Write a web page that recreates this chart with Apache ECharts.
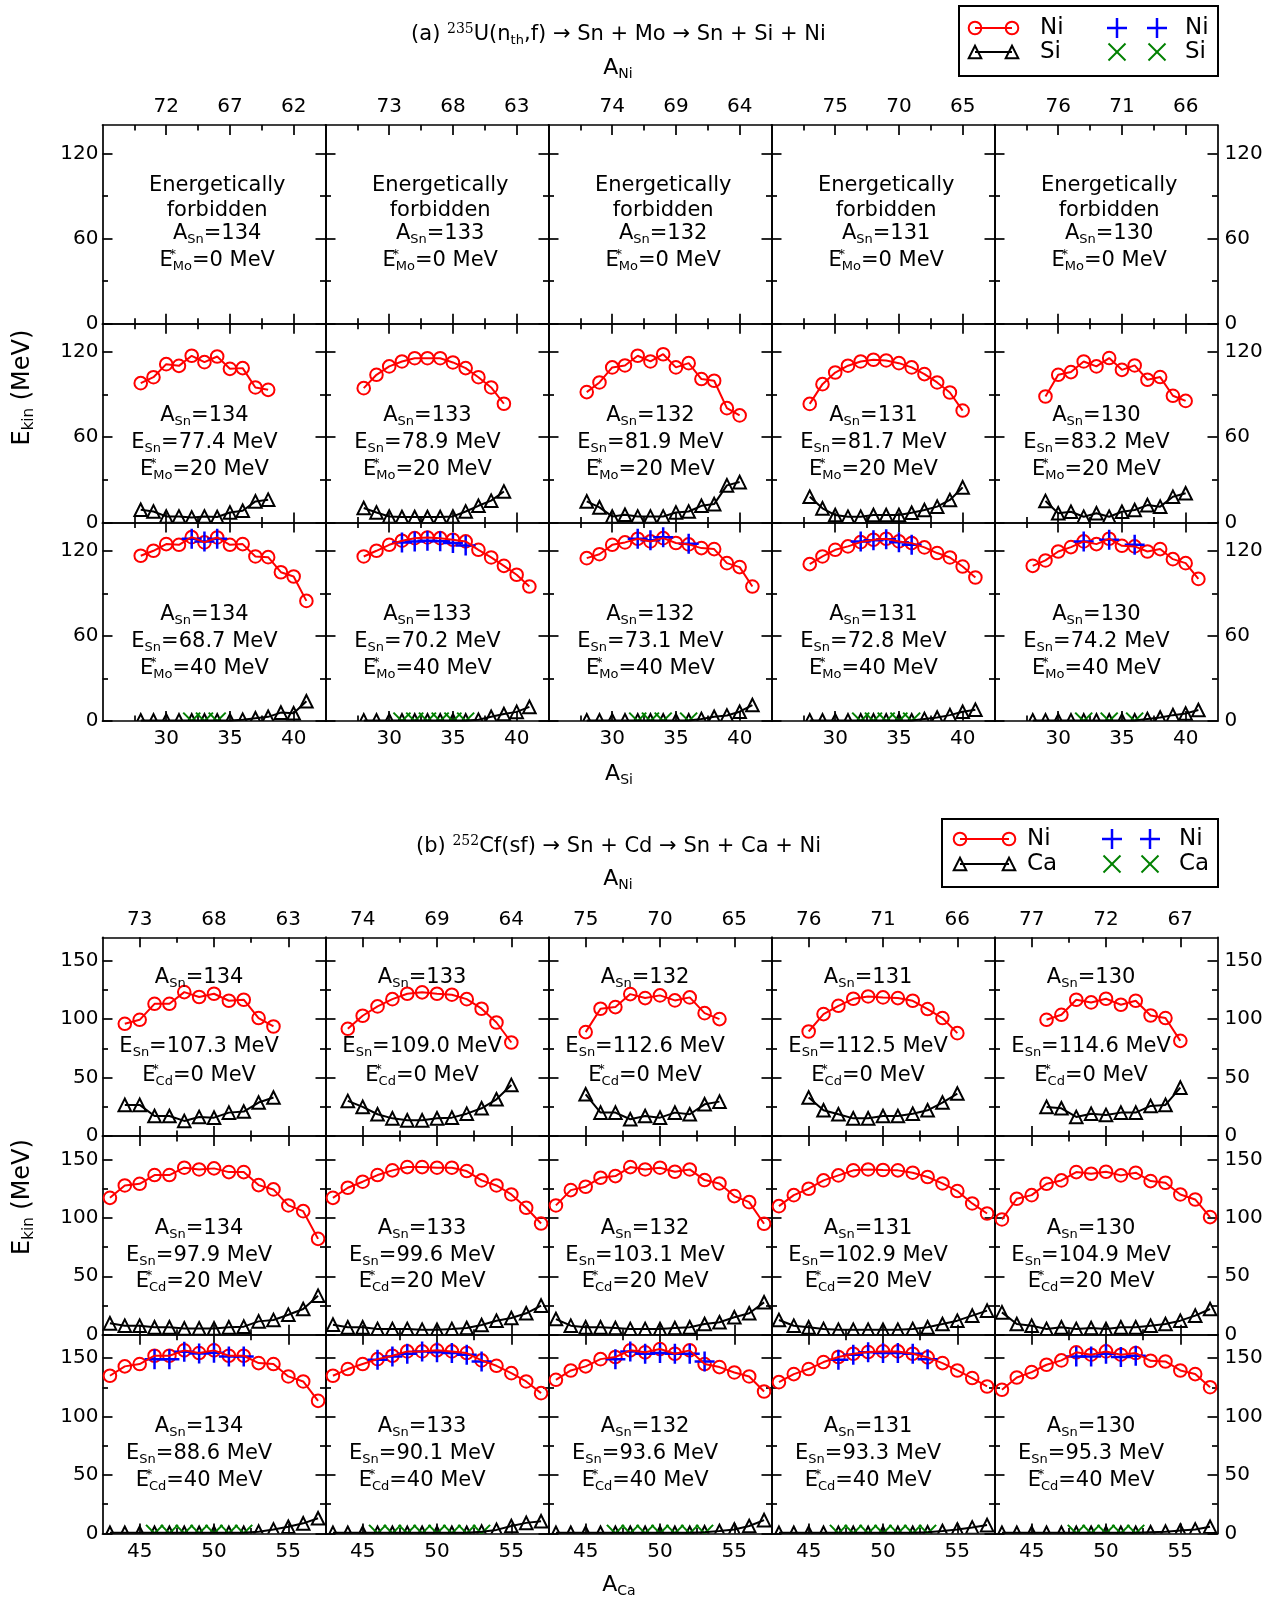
<!DOCTYPE html>
<html>
<head>
<meta charset="utf-8">
<script src="https://cdn.jsdelivr.net/npm/echarts@6.0.0/dist/echarts.min.js"></script>
<style>
html,body{margin:0;padding:0;background:#ffffff;}
#chart{width:1286px;height:1602px;}
</style>
</head>
<body>
<div id="chart"></div>
<script>
// ===================== DATA =====================
const A_SN = [134, 133, 132, 131, 130];
const A_MO = [102, 103, 104, 105, 106];   // 236 - A_Sn
const A_CD = [118, 119, 120, 121, 122];   // 252 - A_Sn
const E_STAR = [0, 20, 40];
const E_SN_A = [null, [77.4, 78.9, 81.9, 81.7, 83.2], [68.7, 70.2, 73.1, 72.8, 74.2]];
const E_SN_B = [[107.3, 109.0, 112.6, 112.5, 114.6], [97.9, 99.6, 103.1, 102.9, 104.9], [88.6, 90.1, 93.6, 93.3, 95.3]];

// tick values
const A_SI_TICKS = [30, 35, 40];
const A_SI_MINOR = [27.5, 32.5, 37.5];
const A_CA_TICKS = [45, 50, 55];
const A_CA_MINOR = [47.5, 52.5];
const E_TICKS_A = [0, 60, 120];
const E_MINOR_A = [30, 90];
const E_TICKS_B = [0, 50, 100, 150];
const E_MINOR_B = [25, 75, 125];

// ---- (a) E*_Mo = 20 MeV : first A_Si of each panel, Ni and Si kinetic energies
const A20_START = [28, 28, 28, 28, 29];
const A20_NI = [
  [98.1, 102.3, 111.5, 110.3, 117.4, 112.9, 116.9, 108.2, 108.7, 95.1, 93.4],
  [94.6, 104.0, 109.9, 113.4, 115.7, 115.7, 115.7, 112.7, 108.7, 102.3, 95.1, 83.6],
  [91.8, 98.6, 109.2, 110.6, 117.4, 113.4, 118.5, 109.2, 112.2, 101.0, 99.8, 80.5, 75.4],
  [83.5, 97.4, 105.6, 110.4, 113.4, 114.6, 114.1, 112.2, 109.2, 104.5, 98.6, 91.5, 78.8],
  [88.7, 104.0, 105.9, 113.4, 109.9, 115.8, 107.5, 110.6, 100.5, 102.4, 89.2, 85.6]
];
const A20_SI = [
  [8.9, 7.7, 4.2, 4.2, 3.5, 4.2, 3.8, 7.0, 8.2, 14.8, 16.0],
  [10.1, 7.0, 4.2, 3.8, 3.8, 3.8, 3.8, 4.2, 7.7, 11.7, 15.3, 21.8],
  [14.8, 10.6, 4.2, 5.4, 4.2, 4.2, 4.2, 7.0, 7.7, 11.7, 12.9, 26.1, 28.4],
  [18.1, 9.9, 5.2, 4.0, 4.0, 5.2, 5.2, 5.2, 6.8, 8.7, 11.1, 15.8, 24.7],
  [15.1, 6.4, 7.5, 4.0, 6.4, 4.0, 7.5, 8.7, 12.2, 11.1, 18.1, 20.5]
];
// ---- (a) E*_Mo = 40 MeV
const A40_START = [28, 28, 28, 28, 28];
const A40_NI = [
  [116.5, 120.0, 124.7, 124.2, 129.6, 125.9, 129.4, 124.2, 124.7, 116.0, 115.5, 104.9, 101.9, 84.7],
  [116.0, 120.0, 124.2, 127.1, 128.9, 129.4, 128.9, 127.8, 126.6, 120.7, 115.3, 109.4, 103.1, 94.8],
  [114.8, 117.6, 124.2, 125.9, 128.5, 126.6, 128.9, 125.5, 124.5, 121.9, 121.2, 111.3, 108.5, 94.8],
  [110.6, 116.0, 120.7, 123.1, 126.1, 127.8, 128.5, 126.6, 125.4, 122.4, 118.4, 115.3, 108.9, 101.2],
  [109.4, 113.2, 119.5, 122.6, 126.6, 124.7, 128.5, 123.5, 123.1, 119.5, 121.2, 114.1, 111.3, 100.2]
];
const A40_SI = [
  [0.5, 0.5, 0.5, 0.5, 0.5, 0.5, 0.5, 0.5, 1.0, 2.0, 3.0, 6.0, 5.5, 14.0],
  [0.5, 0.5, 0.5, 0.5, 0.5, 0.5, 0.5, 0.5, 0.5, 1.0, 3.0, 5.0, 6.5, 10.0],
  [0.5, 0.5, 0.5, 0.5, 0.5, 0.5, 0.5, 0.5, 0.5, 1.5, 3.0, 4.0, 6.6, 11.3],
  [0.5, 0.5, 0.5, 0.5, 0.5, 0.5, 0.5, 0.5, 0.5, 1.5, 2.5, 4.2, 6.6, 8.0],
  [0.5, 0.5, 0.5, 0.5, 0.5, 0.5, 0.5, 0.5, 0.5, 1.5, 2.5, 4.2, 5.4, 7.8]
];
const A40_PLUS_X = [[32, 33, 34], [31, 32, 33, 34, 35, 36], [32, 33, 34, 36], [32, 33, 34, 35, 36], [32, 34, 36]];
const A40_PLUS_E = [
  [128.5, 126.5, 128.5],
  [125.8, 126.5, 127.0, 126.8, 125.5, 123.8],
  [128.5, 127.5, 129.5, 125.0],
  [126.5, 127.5, 128.2, 126.0, 124.2],
  [126.6, 127.8, 124.2]
];
const A40_CROSS_E = [[0, 0, 0], [0, 0, 0, 0, 0, 0], [0, 0, 0, 0], [0, 0, 0, 0, 0], [0, 0, 0]];

// ---- (b) E*_Cd = 0 MeV
const B0_START = [44, 44, 45, 45, 46];
const B0_NI = [
  [96.0, 99.4, 113.1, 113.1, 123.1, 118.9, 121.7, 115.7, 116.6, 100.9, 93.7],
  [91.7, 102.9, 110.9, 117.1, 121.7, 122.9, 121.7, 120.9, 117.1, 108.9, 97.1, 80.0],
  [88.9, 108.9, 110.3, 121.4, 118.0, 120.3, 116.0, 118.6, 105.1, 100.0],
  [89.4, 104.3, 111.4, 117.4, 119.4, 118.6, 118.0, 115.7, 108.6, 100.9, 88.0],
  [99.4, 103.7, 116.6, 114.3, 117.4, 112.3, 115.7, 103.1, 100.9, 81.4]
];
const B0_CA = [
  [26.6, 26.6, 17.1, 17.1, 12.9, 16.3, 15.7, 20.0, 20.9, 28.6, 32.9],
  [30.0, 24.9, 18.6, 15.1, 13.4, 13.4, 15.1, 15.7, 19.1, 23.7, 31.4, 43.7],
  [35.7, 20.0, 20.0, 14.3, 17.1, 15.7, 20.0, 18.6, 27.1, 29.4],
  [32.9, 22.0, 18.6, 15.1, 15.1, 17.1, 17.1, 19.1, 22.0, 28.6, 36.3],
  [24.9, 23.7, 16.3, 19.1, 18.0, 20.0, 20.0, 25.7, 26.6, 41.4]
];
// ---- (b) E*_Cd = 20 MeV
const B20_START = [43, 43, 43, 43, 43];
const B20_NI = [
  [117.1, 127.7, 129.1, 136.6, 136.6, 142.9, 141.4, 142.3, 139.1, 139.1, 128.0, 124.3, 110.6, 105.7, 82.0],
  [117.1, 125.7, 130.9, 136.6, 140.6, 143.4, 143.4, 142.9, 142.9, 140.0, 132.0, 127.7, 120.0, 108.6, 95.1],
  [110.6, 123.7, 126.6, 134.3, 135.7, 143.4, 141.4, 142.9, 139.4, 141.4, 132.3, 129.4, 118.6, 113.4, 94.9],
  [110.0, 119.4, 124.9, 132.0, 136.3, 140.6, 141.4, 140.9, 140.6, 138.6, 134.9, 129.4, 122.9, 112.3, 103.7],
  [98.6, 116.3, 119.4, 129.1, 132.0, 139.1, 137.7, 139.4, 136.3, 138.6, 131.4, 130.0, 120.0, 115.7, 100.6]
];
const B20_CA = [
  [9.7, 7.7, 7.7, 6.3, 6.3, 5.4, 5.4, 5.4, 6.3, 6.9, 11.4, 12.6, 17.1, 22.0, 33.4],
  [8.6, 6.3, 6.3, 4.9, 4.9, 4.9, 4.3, 4.3, 4.9, 5.7, 8.3, 12.0, 14.3, 18.3, 24.9],
  [13.4, 7.7, 6.3, 6.3, 5.7, 4.9, 4.9, 4.9, 5.7, 6.3, 9.1, 10.6, 14.9, 18.3, 27.7],
  [12.6, 7.7, 6.3, 4.9, 4.3, 4.3, 4.3, 4.3, 4.3, 4.9, 6.3, 9.1, 12.0, 16.3, 20.6],
  [19.1, 9.1, 7.7, 4.9, 6.3, 4.9, 5.7, 4.9, 6.3, 6.3, 7.7, 9.1, 12.0, 16.3, 22.0]
];
// ---- (b) E*_Cd = 40 MeV
const B40_START = [43, 43, 43, 43, 43];
const B40_NI = [
  [134.9, 142.9, 144.9, 152.0, 152.0, 156.6, 154.3, 156.6, 152.0, 152.0, 145.7, 144.9, 134.3, 130.0, 113.4],
  [134.9, 140.6, 144.9, 149.1, 152.0, 155.7, 155.7, 156.6, 155.7, 154.3, 148.0, 143.4, 137.1, 130.0, 120.0],
  [131.4, 139.4, 142.9, 149.1, 150.9, 156.6, 154.9, 157.7, 153.7, 156.6, 144.9, 142.3, 137.7, 134.3, 121.4],
  [129.4, 136.3, 140.6, 146.6, 150.9, 153.7, 155.1, 155.7, 155.7, 153.7, 150.6, 145.7, 139.4, 132.9, 125.7],
  [122.9, 133.4, 138.0, 144.3, 148.0, 154.9, 152.9, 155.7, 152.9, 154.3, 147.7, 147.1, 139.4, 136.3, 125.1]
];
const B40_CA = [
  [0.5, 0.5, 0.5, 0.5, 0.5, 0.5, 0.5, 0.5, 0.5, 0.5, 1.5, 3.4, 5.7, 8.6, 12.9],
  [0.5, 0.5, 0.5, 0.5, 0.5, 0.5, 0.5, 0.5, 0.5, 0.5, 1.5, 3.0, 6.3, 9.0, 10.4],
  [0.5, 0.5, 0.5, 0.5, 0.5, 0.5, 0.5, 0.5, 0.5, 0.5, 1.0, 2.0, 3.4, 6.3, 11.4],
  [0.5, 0.5, 0.5, 0.5, 0.5, 0.5, 0.5, 0.5, 0.5, 0.5, 1.0, 2.0, 3.4, 5.1, 7.1],
  [0.5, 0.5, 0.5, 0.5, 0.5, 0.5, 0.5, 0.5, 0.5, 0.5, 1.0, 1.5, 2.5, 3.4, 5.7]
];
const B40_PLUS_X = [
  [46, 47, 48, 49, 50, 51, 52],
  [46, 47, 48, 49, 50, 51, 52, 53],
  [47, 48, 49, 50, 51, 52, 53],
  [47, 48, 49, 50, 51, 52, 53],
  [48, 49, 50, 51, 52]
];
const B40_PLUS_E = [
  [149.1, 149.1, 155.4, 154.0, 154.6, 151.4, 151.4],
  [148.6, 151.4, 153.7, 155.7, 154.9, 154.3, 152.9, 147.1],
  [149.1, 155.7, 153.7, 154.3, 153.7, 153.7, 147.1],
  [148.6, 152.9, 154.9, 154.3, 154.3, 153.7, 149.1],
  [151.4, 151.4, 153.7, 150.9, 152.0]
];
const B40_CROSS_E = [
  [0, 0, 0, 0, 0, 0, 0],
  [0, 0, 0, 0, 0, 0, 0, 0],
  [0, 0, 0, 0, 0, 0, 0],
  [0, 0, 0, 0, 0, 0, 0],
  [0, 0, 0, 0, 0]
];

// ===================== STYLE / LAYOUT =====================
const F = 'DejaVu Sans';
const RED = '#ff0000', BLUE = '#0000ff', GREEN = '#008000', BLACK = '#000000';
const LW = 1.7;
const GX0 = 102.5, GW = 223, GH = 198.7;
const SEC = [
  { top: 125, xMin: 25, xMax: 42.5, yMax: 140, xT: A_SI_TICKS, xM: A_SI_MINOR, yT: E_TICKS_A, yM: E_MINOR_A, mass: A_MO },
  { top: 937.3, xMin: 42.5, xMax: 57.5, yMax: 170, xT: A_CA_TICKS, xM: A_CA_MINOR, yT: E_TICKS_B, yM: E_MINOR_B, mass: A_CD }
];

const RICH = {
  t: { fontFamily: F, fontSize: 21, lineHeight: 25 },
  s: { fontFamily: F, fontSize: 13, lineHeight: 10, verticalAlign: 'bottom' },
  p: { fontFamily: F, fontSize: 13, lineHeight: 10, verticalAlign: 'top' },
  ps: { fontFamily: F, fontSize: 13, lineHeight: 10, verticalAlign: 'top', width: 0 },
  n: { fontFamily: 'DejaVu Serif', fontSize: 14, lineHeight: 10, verticalAlign: 'top' },
  ax: { fontFamily: F, fontSize: 22, lineHeight: 26 },
  axs: { fontFamily: F, fontSize: 14, lineHeight: 10, verticalAlign: 'bottom' },
  ek: { fontFamily: F, fontSize: 24, lineHeight: 28 },
  eks: { fontFamily: F, fontSize: 15, lineHeight: 10, verticalAlign: 'bottom' },
  lg: { fontFamily: F, fontSize: 23, lineHeight: 26 }
};

function pts(start, arr) { return arr.map((v, i) => [start + i, v]); }
function pair(xs, ys) { return xs.map((x, i) => [x, ys[i]]); }

function panelData(s, r, c) {
  if (s === 0) {
    if (r === 0) return null;
    if (r === 1) return { ni: pts(A20_START[c], A20_NI[c]), lt: pts(A20_START[c], A20_SI[c]) };
    return { ni: pts(A40_START[c], A40_NI[c]), lt: pts(A40_START[c], A40_SI[c]),
             plus: pair(A40_PLUS_X[c], A40_PLUS_E[c]), cross: pair(A40_PLUS_X[c], A40_CROSS_E[c]) };
  }
  if (r === 0) return { ni: pts(B0_START[c], B0_NI[c]), lt: pts(B0_START[c], B0_CA[c]) };
  if (r === 1) return { ni: pts(B20_START[c], B20_NI[c]), lt: pts(B20_START[c], B20_CA[c]) };
  return { ni: pts(B40_START[c], B40_NI[c]), lt: pts(B40_START[c], B40_CA[c]),
           plus: pair(B40_PLUS_X[c], B40_PLUS_E[c]), cross: pair(B40_PLUS_X[c], B40_CROSS_E[c]) };
}

function glyph(kind, x, y, z) {
  const zz = z || 0;
  if (kind === 'circle') return { type: 'circle', z: zz, shape: { cx: x, cy: y, r: 6.3 }, style: { fill: 'none', stroke: RED, lineWidth: 2 } };
  if (kind === 'tri') { const h = 6.3; return { type: 'polygon', z: zz, shape: { points: [[x, y - h], [x - h, y + h], [x + h, y + h]] }, style: { fill: 'none', stroke: BLACK, lineWidth: 2 } }; }
  if (kind === 'plus') { const a = 10; return { type: 'group', children: [
      { type: 'line', z: zz, shape: { x1: x - a, y1: y, x2: x + a, y2: y }, style: { stroke: BLUE, lineWidth: 2.5 } },
      { type: 'line', z: zz, shape: { x1: x, y1: y - a, x2: x, y2: y + a }, style: { stroke: BLUE, lineWidth: 2.5 } } ] }; }
  const b = 8.5;
  return { type: 'group', children: [
    { type: 'line', z: zz, shape: { x1: x - b, y1: y - b, x2: x + b, y2: y + b }, style: { stroke: GREEN, lineWidth: 2 } },
    { type: 'line', z: zz, shape: { x1: x - b, y1: y + b, x2: x + b, y2: y - b }, style: { stroke: GREEN, lineWidth: 2 } } ] };
}

function axisX(g, pos, S, vals, len, line, label) {
  return { type: 'value', gridIndex: g, position: pos, min: S.xMin, max: S.xMax,
    axisLine: { show: line, onZero: false, lineStyle: { color: BLACK, width: LW } },
    axisTick: { show: true, inside: true, length: len, customValues: vals, lineStyle: { color: BLACK, width: LW } },
    axisLabel: label || { show: false },
    splitLine: { show: false }, minorTick: { show: false }, minorSplitLine: { show: false } };
}
function axisY(g, pos, S, vals, len, line, label) {
  return { type: 'value', gridIndex: g, position: pos, min: 0, max: S.yMax,
    axisLine: { show: line, onZero: false, lineStyle: { color: BLACK, width: LW } },
    axisTick: { show: true, inside: true, length: len, customValues: vals, lineStyle: { color: BLACK, width: LW } },
    axisLabel: label || { show: false },
    splitLine: { show: false }, minorTick: { show: false }, minorSplitLine: { show: false } };
}

const grids = [], xAxes = [], yAxes = [], series = [], graphics = [];

function txt(x, y, text, extra, align) {
  const al = align || 'center';
  return Object.assign({ type: 'text', x: x, y: y, z: 100, silent: true,
    style: { text: text, rich: RICH, fill: BLACK, fontFamily: F, fontSize: 21,
             align: al, verticalAlign: 'middle', textAlign: al, textVerticalAlign: 'middle' } }, extra || {});
}

function markerSeries(xi, yi, data, kind) {
  return { type: 'custom', coordinateSystem: 'cartesian2d', xAxisIndex: xi, yAxisIndex: yi,
    clip: true, silent: true, animation: false, data: data,
    renderItem: function (params, api) {
      const p = api.coord([api.value(0), api.value(1)]);
      return glyph(kind, p[0], p[1]);
    } };
}

const DY = 3; // vertical nudge of in-panel annotation
SEC.forEach((S, s) => {
  for (let r = 0; r < 3; r++) {
    for (let c = 0; c < 5; c++) {
      const g = grids.length;
      const left = GX0 + c * GW, top = S.top + r * GH;
      grids.push({ left: left, top: top, width: GW, height: GH, containLabel: false, outerBoundsMode: 'none', show: false });
      const lab = { show: true, fontFamily: F, fontSize: 20, color: BLACK };
      const xi = xAxes.length;
      xAxes.push(axisX(g, 'bottom', S, S.xT, 10, true, r === 2 ? Object.assign({}, lab, { margin: 8, customValues: S.xT }) : null));
      xAxes.push(axisX(g, 'bottom', S, S.xM, 5.5, false, null));
      xAxes.push(axisX(g, 'top', S, S.xT, 10, true, r === 0 ? Object.assign({}, lab, { margin: 8, customValues: S.xT,
        formatter: (v) => String(S.mass[c] - v) }) : null));
      xAxes.push(axisX(g, 'top', S, S.xM, 5.5, false, null));
      const yi = yAxes.length;
      yAxes.push(axisY(g, 'left', S, S.yT, 10, true, c === 0 ? Object.assign({}, lab, { margin: 4, customValues: S.yT }) : null));
      yAxes.push(axisY(g, 'left', S, S.yM, 5.5, false, null));
      yAxes.push(axisY(g, 'right', S, S.yT, 10, true, c === 4 ? Object.assign({}, lab, { margin: 7, customValues: S.yT }) : null));
      yAxes.push(axisY(g, 'right', S, S.yM, 5.5, false, null));

      const P = panelData(s, r, c);
      if (P) {
        series.push({ type: 'line', xAxisIndex: xi, yAxisIndex: yi, data: P.ni, symbol: 'none', silent: true,
          animation: false, lineStyle: { color: RED, width: 2 } });
        series.push(markerSeries(xi, yi, P.ni, 'circle'));
        series.push({ type: 'line', xAxisIndex: xi, yAxisIndex: yi, data: P.lt, symbol: 'none', silent: true,
          animation: false, lineStyle: { color: BLACK, width: 2 } });
        series.push(markerSeries(xi, yi, P.lt, 'tri'));
        if (P.plus) series.push(markerSeries(xi, yi, P.plus, 'plus'));
        if (P.cross) series.push(markerSeries(xi, yi, P.cross, 'cross'));
      }

      // annotations
      const span = S.xMax - S.xMin;
      const parent = s === 0 ? 'Mo' : 'Cd';
      const estar = '{t|E}{ps|*}{s|' + parent + '}{t|=' + E_STAR[r] + ' MeV}';
      const asn = '{t|A}{s|Sn}{t|=' + A_SN[c] + '}';
      if (s === 0 && r === 0) {
        const x = left + (34 - S.xMin) / span * GW;
        graphics.push(txt(x, top + 59 + 2, '{t|Energetically}'));
        graphics.push(txt(x, top + 83.3 + 2, '{t|forbidden}'));
        graphics.push(txt(x, top + 106.7 + 2, asn));
        graphics.push(txt(x, top + 134 + 2, estar));
      } else {
        const eSn = s === 0 ? E_SN_A[r][c] : E_SN_B[r][c];
        const esnTxt = '{t|E}{s|Sn}{t|=' + eSn.toFixed(1) + ' MeV}';
        const x = s === 0 ? left + (33 - S.xMin) / span * GW : left + (49 - S.xMin) / span * GW;
        if (s === 1 && r === 0) {
          graphics.push(txt(x, top + 37 + DY, asn));
          graphics.push(txt(x, top + 106.4 + DY, esnTxt));
          graphics.push(txt(x, top + 135 + DY, estar));
        } else {
          graphics.push(txt(x, top + 89.2 + DY, asn));
          graphics.push(txt(x, top + 116.3 + DY, esnTxt));
          graphics.push(txt(x, top + 143 + DY, estar));
        }
      }
    }
  }
});

// titles & axis names
graphics.push(txt(618.5, 35, '{t|(a) }{n|235}{t|U(n}{s|th}{t|,f) → Sn + Mo → Sn + Si + Ni}'));
graphics.push(txt(618, 68, '{ax|A}{axs|Ni}'));
graphics.push(txt(619, 774, '{ax|A}{axs|Si}'));
graphics.push(txt(618.5, 847, '{t|(b) }{n|252}{t|Cf(sf) → Sn + Cd → Sn + Ca + Ni}'));
graphics.push(txt(618, 879, '{ax|A}{axs|Ni}'));
graphics.push(txt(619, 1585, '{ax|A}{axs|Ca}'));
graphics.push(txt(23, 387.6, '{ek|E}{eks|kin}{ek| (MeV)}', { rotation: Math.PI / 2 }));
graphics.push(txt(23, 1197, '{ek|E}{eks|kin}{ek| (MeV)}', { rotation: Math.PI / 2 }));

// legends
function legend(box, rows, xs) {
  graphics.push({ type: 'rect', z: 90, silent: true, shape: { x: box[0], y: box[1], width: box[2], height: box[3] },
    style: { fill: '#ffffff', stroke: BLACK, lineWidth: 2 } });
  rows.forEach((row) => {
    const y = row.y;
    if (row.line) graphics.push({ type: 'line', z: 95, silent: true, shape: { x1: xs[0], y1: y, x2: xs[1], y2: y }, style: { stroke: row.line, lineWidth: 2 } });
    [xs[0], xs[1]].forEach(x => graphics.push(glyph(row.k1, x, y, 96)));
    graphics.push(txt(xs[2], y, '{lg|' + row.t1 + '}', null, 'left'));
    [xs[3], xs[4]].forEach(x => graphics.push(glyph(row.k2, x, y, 96)));
    graphics.push(txt(xs[5], y, '{lg|' + row.t2 + '}', null, 'left'));
  });
}
legend([959, 6, 259, 70], [
  { y: 28, line: RED, k1: 'circle', t1: 'Ni', k2: 'plus', t2: 'Ni' },
  { y: 52, line: BLACK, k1: 'tri', t1: 'Si', k2: 'cross', t2: 'Si' }
], [975, 1012, 1040, 1117, 1157, 1185]);
legend([942, 819, 276, 68], [
  { y: 839, line: RED, k1: 'circle', t1: 'Ni', k2: 'plus', t2: 'Ni' },
  { y: 864, line: BLACK, k1: 'tri', t1: 'Ca', k2: 'cross', t2: 'Ca' }
], [960, 1009, 1027, 1112, 1150, 1179]);

const option = {
  animation: false,
  backgroundColor: '#ffffff',
  grid: grids,
  xAxis: xAxes,
  yAxis: yAxes,
  series: series,
  graphic: { elements: graphics }
};

const chart = echarts.init(document.getElementById('chart'), null, { renderer: 'canvas', width: 1286, height: 1602 });
chart.setOption(option);
</script>
</body>
</html>
